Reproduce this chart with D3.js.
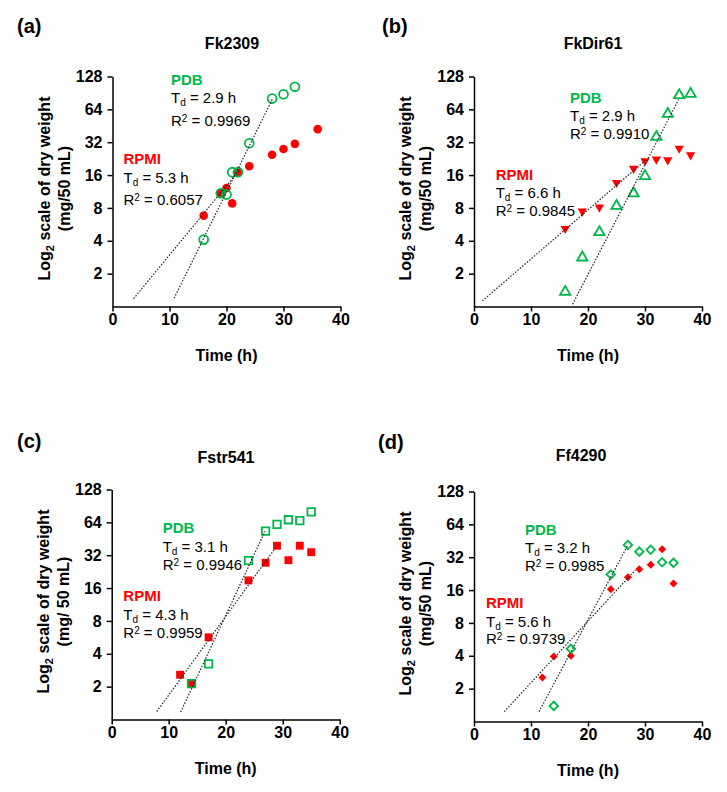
<!DOCTYPE html>
<html>
<head>
<meta charset="utf-8" />
<title>Growth curves</title>
<script src="https://cdn.jsdelivr.net/npm/d3@7"></script>
<style>
  body { margin: 0; background: #fff; }
  svg text { font-family: Arial, "Liberation Sans", sans-serif; fill: #000; }
  .axis path, .axis line { stroke: #000; stroke-width: 1.5px; }
  .axis text { font-size: 16px; font-weight: bold; }
  .fit { fill: none; stroke: #222; stroke-width: 1.2px; stroke-dasharray: 1.5,1.6; }
</style>
</head>
<body>
<div id="chart"></div>
<script>
// ---- data ----
var timeTicks = [0, 10, 20, 30, 40];
var weightTicks = [2, 4, 8, 16, 32, 64, 128];
var panelLetters = ["(a)", "(b)", "(c)", "(d)"];
var strainNames = ["Fk2309", "FkDir61", "Fstr541", "Ff4290"];
var unitLabels = ["(mg/50 mL)", "(mg/50 mL)", "(mg/ 50 mL)", "(mg/50 mL)"];
var pdbTd = ["2.9", "2.9", "3.1", "3.2"];
var pdbR2 = ["0.9969", "0.9910", "0.9946", "0.9985"];
var rpmiTd = ["5.3", "6.6", "4.3", "5.6"];
var rpmiR2 = ["0.6057", "0.9845", "0.9959", "0.9739"];

// (a) Fk2309
var aPdbTime = [16, 19, 20, 21, 22, 24, 28, 30, 32];
var aPdbWeight = [4.1, 10.9, 10.6, 17.0, 17.0, 31.3, 80.4, 88, 103];
var aRpmiTime = [16, 19, 20, 21, 22, 24, 28, 30, 32, 36];
var aRpmiWeight = [6.8, 10.9, 12.2, 8.8, 17.0, 19.3, 24.6, 27.7, 30.9, 42.2];
var aPdbFitTime = [10.8, 28.1], aPdbFitWeight = [1.19, 80.4];
var aRpmiFitTime = [3.7, 22.2], aRpmiFitWeight = [1.18, 17.6];

// (b) FkDir61
var bPdbTime = [16, 19, 22, 25, 28, 30, 32, 34, 36, 38];
var bPdbWeight = [1.36, 2.81, 4.79, 8.34, 10.85, 15.67, 35.8, 58.1, 86.2, 88.6];
var bRpmiTime = [16, 19, 22, 25, 28, 30, 32, 34, 36, 38];
var bRpmiWeight = [5.17, 7.46, 8.11, 13.64, 18.38, 21.56, 22.31, 22.0, 28.05, 24.42];
var bPdbFitTime = [17.3, 35.9], bPdbFitWeight = [1.05, 78.8];
var bRpmiFitTime = [1.45, 30.1], bRpmiFitWeight = [1.125, 21.86];

// (c) Fstr541
var cPdbTime = [14, 17, 24, 27, 29, 31, 33, 35];
var cPdbWeight = [2.13, 3.23, 28.6, 53.1, 61.4, 67.6, 66.3, 79.9];
var cRpmiTime = [12, 14, 17, 24, 27, 29, 31, 33, 35];
var cRpmiWeight = [2.57, 2.13, 5.66, 18.8, 27.3, 39.1, 28.8, 39.1, 34.1];
var cPdbFitTime = [12.1, 26.9], cPdbFitWeight = [1.17, 53.1];
var cRpmiFitTime = [7.9, 29], cRpmiFitWeight = [1.18, 39.1];

// (d) Ff4290
var dPdbTime = [14, 17, 24, 27, 29, 31, 33, 35];
var dPdbWeight = [1.39, 4.63, 22.2, 41.4, 36.0, 37.5, 28.8, 28.4];
var dRpmiTime = [12, 14, 17, 24, 27, 29, 31, 33, 35];
var dRpmiWeight = [2.53, 3.95, 4.0, 16.3, 21.0, 24.8, 27.3, 37.8, 18.4];
var dPdbFitTime = [11.4, 27], dPdbFitWeight = [1.23, 41.4];
var dRpmiFitTime = [5.3, 28.3], dRpmiFitWeight = [1.23, 24.4];

// ---- layout ----
var width = 727, height = 792;
var green = "#00b84a", red = "#ff0000";
var plotW = 228, plotH = 230;

// ox/oy = y axis x and top (128) y; label pos = [dx, dy, gap to Td, gap to R2]
var panels = [
  { ox: 112.5, oy: 76.5, letter: [17, 33], name: [232, 49],
    pdbLab: [58.5, 8.5, 17.5, 23], rpmiLab: [11, 87.5, 18.5, 22.5],
    shape: d3.symbolCircle, pdbSize: 62, rpmiSize: 58, rot: 0,
    pdb: [aPdbTime, aPdbWeight], rpmi: [aRpmiTime, aRpmiWeight],
    pdbFit: [aPdbFitTime, aPdbFitWeight], rpmiFit: [aRpmiFitTime, aRpmiFitWeight] },
  { ox: 474, oy: 76.5, letter: [382, 33], name: [593, 49],
    pdbLab: [96, 26.5, 18, 18], rpmiLab: [21.7, 103.5, 17.5, 18],
    shape: d3.symbolTriangle, pdbSize: 46, rpmiSize: 38, rot: 180,
    pdb: [bPdbTime, bPdbWeight], rpmi: [bRpmiTime, bRpmiWeight],
    pdbFit: [bPdbFitTime, bPdbFitWeight], rpmiFit: [bRpmiFitTime, bRpmiFitWeight] },
  { ox: 111.7, oy: 489.5, letter: [17, 448], name: [226, 463],
    pdbLab: [51, 43.8, 19, 18], rpmiLab: [11.6, 111.5, 18.5, 18],
    shape: d3.symbolSquare, pdbSize: 56, rpmiSize: 62, rot: 0,
    pdb: [cPdbTime, cPdbWeight], rpmi: [cRpmiTime, cRpmiWeight],
    pdbFit: [cPdbFitTime, cPdbFitWeight], rpmiFit: [cRpmiFitTime, cRpmiFitWeight] },
  { ox: 474, oy: 491.5, letter: [378, 449], name: [581, 461],
    pdbLab: [51, 43.5, 18, 18], rpmiLab: [12, 116.8, 18.5, 17.5],
    shape: d3.symbolSquare, pdbSize: 36, rpmiSize: 32, rot: 45,
    pdb: [dPdbTime, dPdbWeight], rpmi: [dRpmiTime, dRpmiWeight],
    pdbFit: [dPdbFitTime, dPdbFitWeight], rpmiFit: [dRpmiFitTime, dRpmiFitWeight] }
];

var svg = d3.select("#chart").append("svg")
  .attr("width", width)
  .attr("height", height);

panels.forEach(function (p, i) {
  var x = d3.scaleLinear().domain([0, 40]).range([0, plotW]);
  var y = d3.scaleLog().base(2).domain([1, 128]).range([plotH, 0]);

  // panel letter and title
  svg.append("text").attr("x", p.letter[0]).attr("y", p.letter[1])
    .style("font-size", "20px").style("font-weight", "bold")
    .text(panelLetters[i]);
  svg.append("text").attr("x", p.name[0]).attr("y", p.name[1])
    .attr("text-anchor", "middle")
    .style("font-size", "16px").style("font-weight", "bold")
    .text(strainNames[i]);

  var g = svg.append("g").attr("transform", "translate(" + p.ox + "," + p.oy + ")");

  g.append("g").attr("class", "axis")
    .attr("transform", "translate(0," + plotH + ")")
    .call(d3.axisBottom(x).tickValues(timeTicks).tickSize(5).tickSizeOuter(0).tickPadding(2));
  g.append("g").attr("class", "axis")
    .call(d3.axisLeft(y).tickValues(weightTicks).tickFormat(d3.format("d"))
      .tickSize(5).tickSizeOuter(0).tickPadding(5));

  // axis titles
  g.append("text")
    .attr("x", plotW / 2).attr("y", plotH + 54)
    .attr("text-anchor", "middle")
    .style("font-size", "16px").style("font-weight", "bold")
    .text("Time (h)");

  var yl = g.append("text")
    .attr("transform", "translate(-63," + (plotH / 2 - 3) + ") rotate(-90)")
    .attr("text-anchor", "middle")
    .style("font-size", "16px").style("font-weight", "bold");
  yl.append("tspan").text("Log");
  yl.append("tspan").attr("dy", 4).style("font-size", "11px").text("2");
  yl.append("tspan").attr("dy", -4).text(" scale of dry weight");
  g.append("text")
    .attr("transform", "translate(-43," + (plotH / 2 - 3) + ") rotate(-90)")
    .attr("text-anchor", "middle")
    .style("font-size", "16px").style("font-weight", "bold")
    .text(unitLabels[i]);

  // markers: red filled first, green open on top
  var sym = d3.symbol().type(p.shape);
  var rpmiPts = d3.zip(p.rpmi[0], p.rpmi[1]);
  var pdbPts = d3.zip(p.pdb[0], p.pdb[1]);
  var redRot = p.rot;
  g.selectAll(".rpmi").data(rpmiPts).enter().append("path")
    .attr("class", "rpmi")
    .attr("d", sym.size(p.rpmiSize)())
    .attr("transform", function (d) { return "translate(" + x(d[0]) + "," + y(d[1]) + ") rotate(" + redRot + ")"; })
    .attr("fill", red);
  var greenRot = p.rot === 180 ? 0 : p.rot;
  g.selectAll(".pdb").data(pdbPts).enter().append("path")
    .attr("class", "pdb")
    .attr("d", sym.size(p.pdbSize)())
    .attr("transform", function (d) { return "translate(" + x(d[0]) + "," + y(d[1]) + ") rotate(" + greenRot + ")"; })
    .attr("fill", "none")
    .attr("stroke", green)
    .attr("stroke-width", 1.8);

  // fitted lines
  var line = d3.line().x(function (d) { return x(d[0]); }).y(function (d) { return y(d[1]); });
  [p.pdbFit, p.rpmiFit].forEach(function (f) {
    g.append("path").attr("class", "fit").attr("d", line(d3.zip(f[0], f[1])));
  });

  // annotations
  function annotate(pos, name, color, td, r2) {
    var t = g.append("g").attr("transform", "translate(" + pos[0] + "," + pos[1] + ")");
    t.append("text").attr("y", 0)
      .style("font-size", "15px").style("font-weight", "bold").style("fill", color)
      .text(name);
    var a = t.append("text").attr("y", pos[2]).style("font-size", "15px");
    a.append("tspan").text("T");
    a.append("tspan").attr("dy", 3).style("font-size", "10px").text("d");
    a.append("tspan").attr("dy", -3).text(" = " + td + " h");
    var b = t.append("text").attr("y", pos[2] + pos[3]).style("font-size", "15px");
    b.append("tspan").text("R");
    b.append("tspan").attr("dy", -4).style("font-size", "10px").text("2");
    b.append("tspan").attr("dy", 4).text(" = " + r2);
  }
  annotate(p.pdbLab, "PDB", green, pdbTd[i], pdbR2[i]);
  annotate(p.rpmiLab, "RPMI", red, rpmiTd[i], rpmiR2[i]);
});
</script>
</body>
</html>
